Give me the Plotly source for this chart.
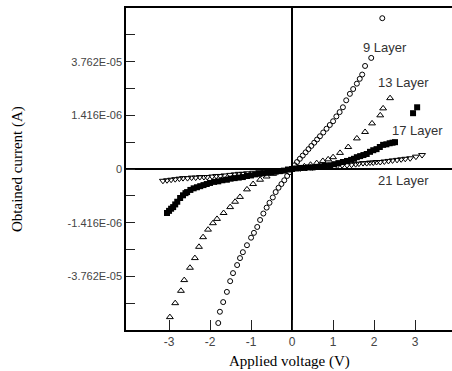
import plotly.graph_objects as go

# ---- data (y in display units of the chart's tick scale) ----
v9 = [-1.80,-1.76,-1.68,-1.59,-1.51,-1.44,-1.34,-1.27,-1.20,-1.10,-1.00,-0.93,-0.85,-0.78,-0.70,-0.62,
      -0.55,-0.47,-0.40,-0.33,-0.26,-0.19,-0.12,-0.06,0.00,0.06,0.12,0.19,0.26,0.33,0.40,0.47,0.54,0.61,
      0.68,0.76,0.84,0.92,1.00,1.08,1.16,1.24,1.32,1.41,1.49,1.58,1.65,1.71,1.78,1.93,2.20]
i9 = [-2.87,-2.66,-2.48,-2.29,-2.09,-1.94,-1.79,-1.66,-1.55,-1.42,-1.28,-1.19,-1.08,-0.95,-0.83,-0.72,
      -0.63,-0.53,-0.43,-0.35,-0.28,-0.21,-0.13,-0.06,0.00,0.07,0.13,0.19,0.25,0.31,0.37,0.43,0.49,0.55,
      0.61,0.68,0.75,0.82,0.89,0.98,1.06,1.15,1.28,1.40,1.49,1.59,1.68,1.76,1.92,2.07,2.81]

v13 = [-2.98,-2.85,-2.71,-2.63,-2.49,-2.37,-2.27,-2.17,-2.05,-1.93,-1.83,-1.67,-1.51,-1.39,-1.27,-1.10,
       -0.95,-0.78,-0.62,-0.46,-0.30,-0.15,0.00,0.15,0.30,0.45,0.60,0.75,0.88,1.00,1.17,1.37,1.58,1.78,
       1.95,2.15,2.22,2.39]
i13 = [-2.76,-2.50,-2.27,-2.07,-1.84,-1.66,-1.45,-1.27,-1.13,-1.01,-0.93,-0.82,-0.71,-0.61,-0.52,-0.38,
       -0.28,-0.20,-0.14,-0.09,-0.05,-0.02,0.00,0.02,0.05,0.08,0.11,0.15,0.18,0.22,0.30,0.41,0.57,0.69,
       0.85,1.00,1.13,1.32]

v17 = [-3.05,-3.00,-2.95,-2.90,-2.85,-2.80,-2.73,-2.66,-2.60,-2.56,-2.48,-2.40,-2.32,-2.24,-2.16,-2.08,
       -2.00,-1.90,-1.80,-1.70,-1.59,-1.50,-1.40,-1.30,-1.20,-1.10,-1.00,-0.90,-0.80,-0.70,-0.60,-0.50,
       -0.40,-0.30,-0.20,-0.10,0.00,0.10,0.20,0.30,0.40,0.50,0.60,0.70,0.80,0.93,1.03,1.13,1.24,1.34,
       1.44,1.51,1.58,1.66,1.74,1.82,1.90,1.98,2.06,2.14,2.22,2.30,2.38,2.45,2.51,2.95,3.05]
i17 = [-0.82,-0.78,-0.74,-0.71,-0.66,-0.61,-0.54,-0.49,-0.45,-0.43,-0.39,-0.36,-0.34,-0.32,-0.30,-0.28,
       -0.26,-0.24,-0.23,-0.21,-0.20,-0.18,-0.17,-0.16,-0.15,-0.13,-0.12,-0.10,-0.09,-0.08,-0.07,-0.06,
       -0.05,-0.04,-0.03,-0.01,0.00,0.01,0.02,0.02,0.03,0.03,0.04,0.05,0.06,0.07,0.09,0.11,0.13,0.15,
       0.17,0.19,0.22,0.24,0.26,0.28,0.32,0.35,0.37,0.41,0.45,0.46,0.48,0.49,0.50,1.04,1.15]

v21 = [-3.15,-3.05,-2.95,-2.85,-2.75,-2.66,-2.55,-2.45,-2.35,-2.25,-2.15,-2.07,-1.95,-1.85,-1.75,-1.65,
       -1.51,-1.40,-1.30,-1.20,-1.10,-0.95,-0.80,-0.65,-0.50,-0.35,-0.20,0.00,0.20,0.35,0.50,0.65,0.80,
       0.95,1.10,1.22,1.34,1.45,1.55,1.63,1.73,1.82,1.90,1.98,2.06,2.15,2.25,2.35,2.45,2.56,2.66,2.76,
       2.88,3.02,3.17]
i21 = [-0.22,-0.21,-0.20,-0.19,-0.18,-0.17,-0.17,-0.16,-0.16,-0.15,-0.15,-0.15,-0.14,-0.13,-0.13,-0.12,
       -0.11,-0.10,-0.09,-0.09,-0.08,-0.07,-0.06,-0.05,-0.04,-0.03,-0.02,0.00,0.01,0.02,0.03,0.04,0.04,
       0.05,0.06,0.07,0.07,0.08,0.09,0.10,0.11,0.11,0.12,0.12,0.13,0.13,0.14,0.15,0.16,0.17,0.18,0.19,
       0.20,0.23,0.26]

x_ticks = [-3, -2, -1, 0, 1, 2, 3]
x_labels = ["-3", "-2", "-1", "0", "1", "2", "3"]
y_ticks = [-2, -1, 0, 1, 2]
y_labels = ["-3.762E-05", "-1.416E-06", "0", "1.416E-06", "3.762E-05"]

labels = ["9 Layer", "13 Layer", "17 Layer", "21 Layer"]
label_x = [2.27, 2.72, 3.06, 2.72]
label_y = [2.27, 1.62, 0.71, -0.22]

fig = go.Figure()
fig.add_trace(go.Scatter(x=v9, y=i9, mode="markers", name="9 Layer",
                         marker=dict(symbol="circle-open", size=5, color="black", line=dict(width=1))))
fig.add_trace(go.Scatter(x=v13, y=i13, mode="markers", name="13 Layer",
                         marker=dict(symbol="triangle-up-open", size=6, color="black", line=dict(width=1))))
fig.add_trace(go.Scatter(x=v17, y=i17, mode="markers", name="17 Layer",
                         marker=dict(symbol="square", size=6, color="black", line=dict(width=0))))
fig.add_trace(go.Scatter(x=v21, y=i21, mode="markers", name="21 Layer",
                         marker=dict(symbol="triangle-down-open", size=6, color="black", line=dict(width=1))))

for t, x, y in zip(labels, label_x, label_y):
    fig.add_annotation(x=x, y=y, text=t, showarrow=False,
                       font=dict(family="Liberation Sans, Arial", size=13, color="#333"))

fig.add_annotation(xref="paper", yref="paper", x=(17 - 126) / 326, y=0.5, text="Obtained current (A)",
                   textangle=-90, showarrow=False, xanchor="center", yanchor="middle",
                   font=dict(family="Liberation Serif, Times New Roman", size=15, color="black"))
fig.add_annotation(xref="paper", yref="paper", x=0.503, y=-0.098, text="Applied voltage (V)",
                   showarrow=False, xanchor="center", yanchor="middle",
                   font=dict(family="Liberation Serif, Times New Roman", size=15, color="black"))

fig.update_layout(
    width=452, height=371,
    margin=dict(l=126, r=0, t=8, b=41),
    paper_bgcolor="white", plot_bgcolor="white",
    showlegend=False,
    xaxis=dict(range=[-4.05, 3.9], tickmode="array", tickvals=x_ticks, ticktext=x_labels,
               showgrid=False, showline=True, mirror=True, linecolor="black", linewidth=1.5,
               ticks="inside", ticklen=10, tickcolor="#222", tickwidth=1,
               zeroline=True, zerolinecolor="black", zerolinewidth=1.5,
               tickfont=dict(family="Liberation Sans, Arial", size=12, color="#444")),
    yaxis=dict(range=[-3, 3], tickmode="array", tickvals=y_ticks, ticktext=y_labels,
               showgrid=False, showline=True, mirror=False, linecolor="black", linewidth=1.5,
               ticks="inside", ticklen=9, tickcolor="#222", tickwidth=1,
               minor=dict(tickmode="linear", tick0=0.5, dtick=1, ticks="inside", ticklen=9,
                          tickcolor="#222", tickwidth=1, showgrid=False),
               zeroline=True, zerolinecolor="black", zerolinewidth=1.5,
               tickfont=dict(family="Liberation Sans, Arial", size=11, color="#444")),
)

fig.write_html("out.html", config={"displayModeBar": False},
               post_script="document.body.style.margin='0';document.body.style.padding='0';")
